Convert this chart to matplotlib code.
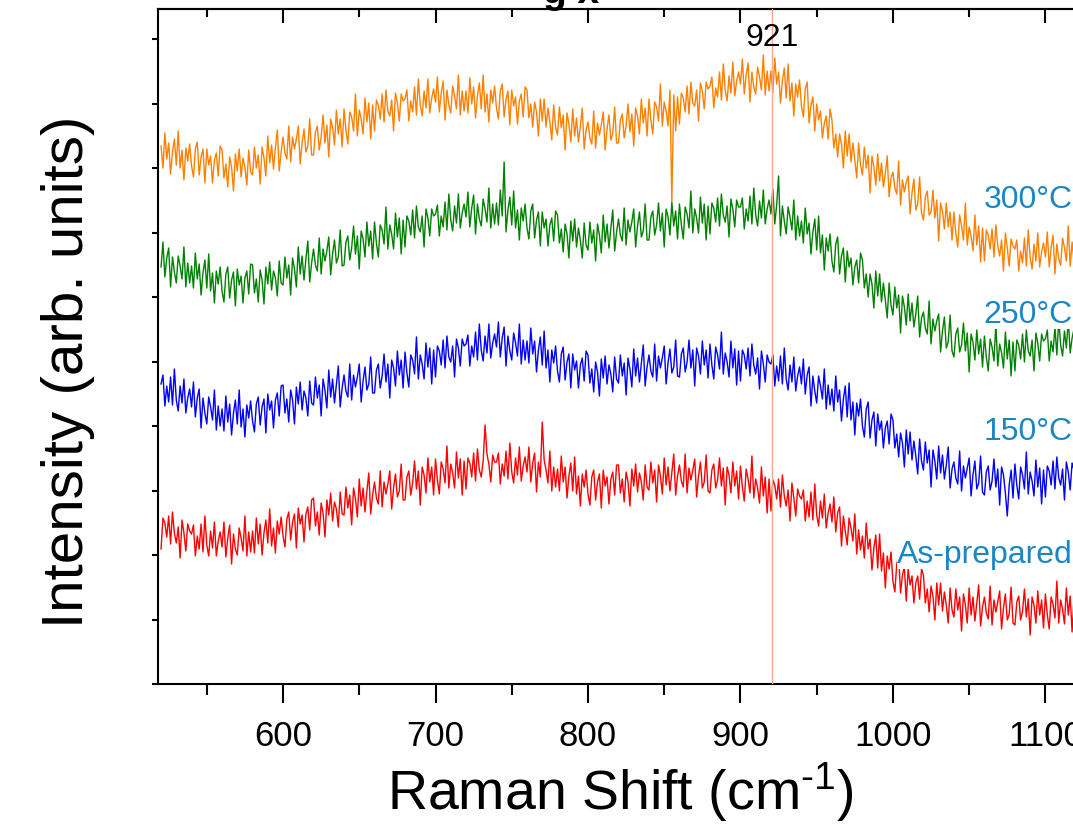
import numpy as np
import matplotlib
matplotlib.use("Agg")
import matplotlib.pyplot as plt
from matplotlib.ticker import MultipleLocator

plt.rcParams['font.family'] = ['Liberation Sans', 'DejaVu Sans']
plt.rcParams['mathtext.fontset'] = 'custom'
plt.rcParams['mathtext.rm'] = 'Liberation Sans'
plt.rcParams['mathtext.default'] = 'regular'

# Raman shift grid (cm-1)
shift = np.arange(520, 1120.01, 1.25)

# stacked intensities (arb. units), already offset as plotted
i_300 = [
    538, 516, 551, 525, 541, 510, 532, 545, 519, 553, 516, 534, 504, 536, 523, 540,
    518, 507, 535, 542, 509, 527, 535, 501, 535, 519, 528, 501, 524, 531, 508, 538,
    534, 506, 520, 497, 527, 517, 493, 530, 513, 535, 507, 526, 517, 499, 534, 512,
    509, 537, 516, 529, 500, 537, 526, 508, 548, 521, 539, 515, 536, 554, 513, 532,
    547, 531, 525, 558, 522, 547, 535, 545, 558, 520, 541, 555, 532, 538, 565, 529,
    529, 552, 558, 534, 547, 569, 541, 559, 527, 565, 557, 539, 574, 550, 565, 537,
    575, 554, 540, 572, 567, 553, 590, 548, 574, 565, 550, 586, 562, 581, 545, 579,
    553, 584, 579, 565, 590, 562, 594, 573, 568, 584, 553, 591, 581, 563, 590, 583,
    585, 594, 563, 583, 572, 597, 569, 605, 579, 568, 593, 576, 605, 571, 586, 595,
    582, 607, 572, 591, 603, 564, 594, 579, 571, 598, 588, 575, 609, 569, 593, 573,
    593, 571, 606, 580, 597, 566, 588, 601, 575, 609, 572, 590, 562, 594, 581, 598,
    576, 565, 593, 600, 567, 585, 593, 559, 594, 578, 587, 560, 583, 590, 567, 597,
    594, 566, 580, 557, 582, 572, 548, 585, 563, 585, 557, 576, 562, 544, 579, 557,
    549, 577, 556, 569, 534, 571, 560, 542, 575, 548, 566, 542, 558, 576, 535, 554,
    562, 546, 540, 573, 536, 561, 549, 559, 572, 534, 555, 569, 544, 550, 577, 541,
    541, 564, 570, 546, 558, 580, 552, 570, 538, 576, 568, 550, 585, 561, 576, 548,
    585, 564, 550, 582, 577, 563, 600, 558, 582, 573, 558, 594, 482, 589, 553, 587,
    560, 591, 586, 572, 598, 570, 602, 581, 578, 594, 563, 601, 593, 575, 602, 595,
    598, 607, 576, 596, 587, 612, 584, 620, 594, 583, 608, 591, 622, 588, 603, 612,
    600, 625, 590, 609, 621, 582, 612, 597, 590, 617, 607, 594, 629, 589, 613, 593,
    613, 591, 626, 600, 612, 581, 603, 616, 586, 620, 583, 601, 568, 600, 587, 604,
    578, 567, 595, 602, 561, 579, 587, 553, 580, 564, 573, 546, 561, 568, 545, 575,
    564, 536, 550, 527, 550, 540, 516, 553, 528, 550, 522, 541, 524, 506, 541, 519,
    509, 537, 516, 529, 491, 528, 517, 499, 530, 503, 521, 497, 510, 528, 487, 506,
    512, 496, 490, 523, 479, 504, 492, 502, 508, 470, 491, 505, 474, 480, 507, 471,
    464, 487, 493, 469, 472, 494, 466, 484, 443, 481, 473, 455, 481, 457, 472, 444,
    472, 451, 437, 469, 458, 444, 481, 439, 457, 448, 433, 469, 439, 458, 422, 456,
    423, 454, 449, 435, 455, 427, 459, 438, 428, 444, 413, 451, 436, 418, 445, 438,
    435, 444, 413, 433, 421, 446, 418, 454, 426, 415, 440, 423, 451, 417, 432, 441,
    427, 452, 417, 436, 449, 410, 440, 425, 419, 446, 436, 423, 458, 418, 442, 422,
    440,
]

i_250 = [
    417, 442, 407, 426, 436, 397, 427, 412, 401, 428, 418, 405, 437, 397, 421, 401,
    418, 396, 431, 405, 420, 389, 411, 424, 396, 430, 393, 411, 381, 413, 400, 417,
    393, 382, 410, 417, 386, 404, 412, 378, 415, 399, 408, 381, 406, 413, 390, 420,
    419, 391, 405, 382, 414, 404, 380, 417, 400, 422, 394, 413, 406, 388, 423, 401,
    399, 427, 406, 419, 389, 426, 415, 397, 437, 410, 428, 404, 425, 443, 402, 421,
    435, 419, 413, 446, 410, 435, 423, 433, 447, 409, 430, 444, 421, 427, 454, 418,
    419, 442, 448, 424, 436, 458, 430, 448, 415, 453, 445, 427, 462, 438, 453, 425,
    462, 441, 427, 459, 454, 440, 477, 435, 459, 450, 435, 471, 447, 466, 430, 464,
    437, 468, 463, 449, 474, 446, 478, 457, 452, 468, 437, 475, 466, 448, 475, 468,
    470, 479, 448, 468, 457, 482, 454, 490, 464, 453, 478, 461, 490, 456, 471, 480,
    467, 492, 457, 476, 489, 450, 480, 465, 458, 485, 475, 462, 496, 456, 480, 460,
    481, 459, 494, 468, 522, 452, 474, 487, 459, 493, 456, 474, 444, 476, 463, 480,
    456, 445, 473, 480, 446, 464, 472, 438, 472, 456, 465, 438, 459, 466, 443, 473,
    469, 441, 455, 432, 460, 450, 426, 463, 443, 465, 437, 456, 444, 426, 461, 439,
    434, 462, 441, 454, 423, 460, 449, 431, 469, 442, 460, 436, 456, 474, 433, 452,
    465, 449, 443, 476, 439, 464, 452, 462, 475, 437, 458, 472, 447, 453, 480, 444,
    444, 467, 473, 449, 459, 481, 453, 471, 437, 475, 467, 449, 482, 458, 473, 445,
    480, 459, 445, 477, 470, 456, 493, 451, 475, 466, 451, 487, 461, 480, 444, 478,
    450, 481, 476, 462, 486, 458, 490, 469, 462, 478, 447, 485, 475, 457, 484, 477,
    477, 486, 455, 475, 463, 488, 460, 496, 469, 458, 483, 466, 494, 460, 475, 484,
    470, 495, 460, 479, 508, 448, 478, 463, 450, 477, 467, 454, 484, 444, 468, 448,
    463, 441, 476, 450, 461, 430, 452, 465, 434, 468, 431, 449, 414, 446, 433, 450,
    423, 412, 440, 447, 410, 428, 436, 402, 433, 417, 426, 399, 417, 424, 401, 431,
    424, 396, 410, 387, 410, 400, 376, 413, 388, 410, 382, 401, 384, 366, 401, 379,
    369, 397, 376, 389, 351, 388, 377, 359, 390, 363, 381, 357, 370, 388, 347, 366,
    372, 356, 350, 383, 340, 365, 353, 363, 370, 332, 353, 367, 336, 342, 369, 333,
    327, 350, 356, 332, 339, 361, 333, 351, 312, 350, 342, 324, 354, 330, 345, 317,
    348, 327, 313, 345, 337, 323, 360, 318, 340, 331, 316, 352, 325, 344, 308, 342,
    313, 344, 339, 325, 350, 322, 354, 333, 328, 344, 313, 351, 341, 323, 350, 343,
    345, 354, 323, 343, 332, 357, 329, 365, 339, 328, 353, 336, 365, 331, 346, 355,
    350,
]

i_150 = [
    300, 309, 278, 298, 282, 307, 279, 315, 284, 273, 298, 281, 305, 271, 286, 295,
    277, 302, 267, 286, 295, 256, 286, 271, 260, 287, 277, 264, 294, 254, 278, 258,
    275, 253, 288, 262, 280, 249, 271, 284, 260, 294, 257, 275, 247, 279, 266, 283,
    263, 252, 280, 287, 259, 277, 285, 251, 290, 274, 283, 256, 284, 291, 268, 298,
    299, 271, 285, 262, 294, 284, 260, 297, 280, 302, 274, 293, 286, 268, 303, 281,
    279, 307, 286, 299, 268, 305, 294, 276, 314, 287, 305, 281, 300, 318, 277, 296,
    309, 293, 287, 320, 284, 309, 297, 307, 320, 282, 303, 317, 294, 300, 327, 291,
    291, 314, 320, 296, 308, 330, 302, 320, 286, 324, 316, 298, 333, 309, 324, 296,
    332, 311, 297, 329, 324, 310, 347, 305, 329, 320, 305, 341, 317, 336, 300, 334,
    307, 338, 333, 319, 344, 316, 348, 327, 322, 338, 307, 345, 336, 318, 345, 338,
    340, 349, 318, 338, 327, 352, 324, 360, 334, 323, 348, 331, 360, 326, 341, 350,
    337, 362, 327, 346, 357, 318, 348, 333, 324, 351, 341, 328, 360, 320, 344, 324,
    343, 321, 356, 330, 343, 312, 334, 347, 319, 353, 316, 334, 302, 334, 321, 338,
    313, 302, 330, 337, 304, 322, 330, 296, 330, 314, 323, 296, 319, 326, 303, 333,
    329, 301, 315, 292, 322, 312, 288, 325, 306, 328, 300, 319, 310, 292, 327, 305,
    301, 329, 308, 321, 289, 326, 315, 297, 335, 308, 326, 302, 321, 339, 298, 317,
    329, 313, 307, 340, 303, 328, 316, 326, 338, 300, 321, 335, 311, 317, 344, 308,
    307, 330, 336, 312, 322, 344, 316, 334, 298, 336, 328, 310, 343, 319, 334, 306,
    340, 319, 305, 337, 329, 315, 352, 310, 331, 322, 307, 343, 316, 335, 299, 333,
    303, 334, 329, 315, 336, 308, 340, 319, 310, 326, 295, 333, 320, 302, 329, 322,
    320, 329, 298, 318, 303, 328, 300, 336, 305, 294, 319, 302, 327, 293, 308, 317,
    300, 325, 290, 309, 317, 278, 308, 293, 281, 308, 298, 285, 315, 275, 299, 279,
    295, 273, 308, 282, 294, 263, 285, 298, 267, 301, 264, 282, 249, 281, 268, 285,
    258, 247, 275, 282, 246, 264, 272, 238, 270, 254, 263, 236, 256, 263, 240, 270,
    264, 236, 250, 227, 251, 241, 217, 254, 230, 252, 224, 243, 228, 210, 245, 223,
    214, 242, 221, 234, 197, 234, 223, 205, 238, 211, 229, 205, 219, 237, 196, 215,
    222, 206, 200, 233, 193, 218, 206, 216, 226, 188, 209, 223, 195, 201, 228, 192,
    189, 212, 218, 194, 203, 225, 197, 215, 179, 217, 209, 191, 168, 199, 214, 186,
    220, 199, 185, 217, 209, 195, 232, 190, 212, 203, 188, 224, 197, 216, 180, 214,
    187, 218, 213, 199, 223, 195, 227, 206, 199, 215, 184, 222, 212, 194, 221, 214,
    215,
]

i_prep = [
    135, 166, 161, 147, 168, 140, 172, 151, 141, 157, 126, 164, 151, 133, 160, 153,
    150, 159, 128, 148, 135, 160, 132, 168, 139, 128, 153, 136, 162, 128, 143, 152,
    137, 162, 127, 146, 159, 120, 150, 135, 129, 156, 146, 133, 168, 128, 152, 132,
    153, 131, 166, 140, 160, 129, 151, 164, 141, 175, 138, 156, 131, 163, 150, 167,
    148, 137, 165, 172, 144, 162, 170, 136, 176, 160, 169, 142, 170, 177, 154, 184,
    186, 158, 172, 149, 181, 171, 147, 184, 169, 191, 163, 182, 175, 157, 192, 170,
    169, 197, 176, 189, 159, 196, 185, 167, 205, 178, 196, 172, 193, 211, 170, 189,
    202, 186, 180, 213, 177, 202, 190, 200, 213, 175, 196, 210, 187, 193, 220, 184,
    184, 207, 213, 189, 201, 223, 195, 213, 179, 217, 209, 191, 226, 202, 217, 189,
    225, 204, 190, 222, 215, 201, 238, 196, 220, 211, 196, 232, 206, 225, 189, 223,
    195, 226, 221, 207, 231, 203, 235, 214, 207, 223, 259, 230, 220, 202, 229, 222,
    222, 231, 200, 220, 208, 233, 205, 241, 212, 201, 226, 209, 237, 203, 218, 227,
    212, 237, 202, 221, 231, 192, 222, 207, 262, 224, 214, 201, 233, 193, 217, 197,
    215, 193, 228, 202, 217, 186, 208, 221, 193, 227, 190, 208, 178, 210, 197, 214,
    190, 179, 207, 214, 184, 202, 210, 176, 214, 198, 207, 180, 205, 212, 189, 219,
    219, 191, 205, 182, 212, 202, 178, 215, 198, 220, 192, 211, 202, 184, 219, 197,
    194, 222, 201, 214, 182, 219, 208, 190, 226, 199, 217, 193, 212, 230, 189, 208,
    219, 203, 197, 230, 191, 216, 204, 214, 225, 187, 208, 222, 196, 202, 229, 193,
    191, 214, 220, 196, 204, 226, 198, 216, 179, 217, 209, 191, 222, 198, 213, 185,
    218, 197, 183, 215, 205, 191, 228, 186, 205, 196, 181, 217, 188, 207, 171, 205,
    173, 204, 199, 185, 205, 177, 209, 188, 178, 194, 163, 201, 186, 168, 195, 188,
    185, 194, 163, 183, 167, 192, 164, 200, 169, 158, 183, 166, 190, 156, 171, 180,
    162, 187, 152, 171, 177, 138, 168, 153, 139, 166, 156, 143, 170, 130, 154, 134,
    148, 126, 161, 135, 145, 114, 136, 149, 116, 150, 113, 131, 96, 128, 115, 132,
    103, 92, 120, 127, 91, 109, 117, 83, 115, 99, 108, 81, 101, 108, 85, 115,
    109, 81, 95, 72, 98, 88, 64, 101, 79, 101, 73, 92, 79, 61, 96, 74,
    67, 95, 74, 87, 53, 90, 79, 61, 96, 69, 87, 63, 81, 99, 58, 77,
    87, 71, 65, 98, 59, 84, 72, 82, 93, 55, 76, 90, 64, 70, 97, 61,
    59, 82, 88, 64, 73, 95, 67, 85, 49, 87, 79, 61, 93, 69, 84, 56,
    90, 69, 55, 87, 80, 66, 103, 61, 84, 75, 60, 96, 69, 88, 52, 86,
    80,
]

labels = ['300°C', '250°C', '150°C', 'As-prepared']
label_levels = [485, 370, 253, 130]
colors = ['#ff8000', '#008000', '#0000ff', '#ff0000']
peak = 921

fig = plt.figure(figsize=(10.73, 8.28), dpi=100)
ax = fig.add_axes([158 / 1073, 143 / 828, 924 / 1073, 675 / 828])

for y, c in zip([i_prep, i_150, i_250, i_300], colors[::-1]):
    ax.plot(shift, y, color=c, lw=1.0)

ax.axvline(peak, color='#f7a98c', lw=1.0, zorder=3)
ax.text(peak, 647, str(peak), ha='center', va='center', fontsize=23)

for lab, lv in zip(labels, label_levels):
    ax.text(1118, lv, lab, ha='right', va='center', fontsize=23,
            color='#1a87c5', zorder=4,
            bbox=dict(facecolor='white', edgecolor='none', pad=0))

ax.set_xlim(518, 1124)
ax.set_ylim(0, 675)
ax.xaxis.set_major_locator(MultipleLocator(100))
ax.xaxis.set_minor_locator(MultipleLocator(50))
ax.yaxis.set_major_locator(MultipleLocator(64.5))
ax.tick_params(axis='x', which='major', direction='out', length=14, width=1.5,
               labelsize=25, pad=11)
ax.tick_params(axis='x', which='minor', direction='out', length=8, width=1.5)
ax.tick_params(axis='y', which='major', direction='out', length=4, width=1.5,
               labelleft=False)

top = ax.secondary_xaxis('top')
top.xaxis.set_major_locator(MultipleLocator(100))
top.xaxis.set_minor_locator(MultipleLocator(50))
top.tick_params(axis='x', which='major', direction='in', length=10, width=1.5,
                labeltop=False)
top.tick_params(axis='x', which='minor', direction='in', length=6, width=1.5)

for s in ax.spines.values():
    s.set_linewidth(1.5)
top.spines['top'].set_linewidth(1.5)

# title sits mostly above the canvas, only its lower edge shows
fig.text(571 / 1073, 1 - 3 / 828, 'g x', ha='center', va='baseline',
         fontsize=28, fontweight='bold')

fig.text(620 / 1073, 1 - 792 / 828, 'Raman Shift (cm$^{\u20101}$)',
         ha='center', va='center', fontsize=40)
fig.text(68 / 1073, 1 - 372 / 828, 'Intensity (arb. units)',
         ha='center', va='center', rotation=90, fontsize=42)

fig.savefig('out.png', dpi=100)
